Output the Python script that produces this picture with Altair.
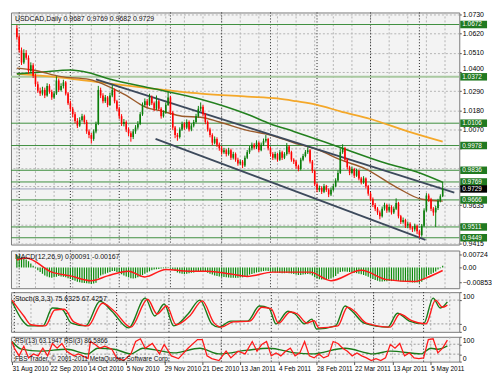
import json
import altair as alt
import pandas as pd

# ---------------- data ----------------
symbol = "USDCAD,Daily"
first_open = 1.0650
closes = [
    1.0600, 1.0524, 1.0454, 1.0508, 1.0481, 1.0405, 1.0438, 1.0378, 1.0330, 1.0292,
    1.0276, 1.0297, 1.0265, 1.0319, 1.0286, 1.0254, 1.0276, 1.0351, 1.0297, 1.0319,
    1.0340, 1.0276, 1.0221, 1.0189, 1.0157, 1.0119, 1.0092, 1.0124, 1.0146, 1.0113,
    1.0059, 1.0038, 1.0016, 1.0059, 1.0102, 1.0297, 1.0265, 1.0232, 1.0254, 1.0211,
    1.0265, 1.0297, 1.0232, 1.0189, 1.0146, 1.0102, 1.0113, 1.0070, 1.0048, 1.0027,
    1.0059, 1.0081, 1.0102, 1.0157, 1.0211, 1.0232, 1.0211, 1.0254, 1.0221, 1.0189,
    1.0232, 1.0189, 1.0146, 1.0167, 1.0211, 1.0254, 1.0167, 1.0081, 1.0038, 1.0027,
    1.0070, 1.0102, 1.0081, 1.0113, 1.0070, 1.0092, 1.0113, 1.0146, 1.0189, 1.0200,
    1.0157, 1.0113, 1.0070, 1.0038, 0.9994, 1.0016, 0.9983, 0.9962, 0.9940, 0.9951,
    0.9929, 0.9951, 0.9908, 0.9929, 0.9897, 0.9875, 0.9886, 0.9864, 0.9908, 0.9940,
    0.9962, 0.9983, 0.9967, 0.9994, 0.9951, 0.9983, 1.0005, 1.0016, 0.9962, 0.9929,
    0.9908, 0.9929, 0.9897, 0.9940, 0.9908, 0.9929, 0.9973, 0.9940, 0.9897, 0.9886,
    0.9859, 0.9843, 0.9897, 0.9918, 0.9940, 0.9951, 0.9886, 0.9832, 0.9756, 0.9724,
    0.9735, 0.9713, 0.9745, 0.9724, 0.9697, 0.9724, 0.9745, 0.9778, 0.9821, 0.9940,
    0.9962, 0.9897, 0.9854, 0.9821, 0.9843, 0.9805, 0.9832, 0.9789, 0.9767, 0.9789,
    0.9745, 0.9702, 0.9670, 0.9637, 0.9616, 0.9594, 0.9572, 0.9616, 0.9637, 0.9605,
    0.9626, 0.9594, 0.9616, 0.9648, 0.9572, 0.9540, 0.9551, 0.9518, 0.9529, 0.9507,
    0.9497, 0.9518, 0.9486, 0.9464, 0.9518, 0.9605, 0.9691, 0.9670, 0.9616, 0.9594,
    0.9620, 0.9660, 0.9687, 0.9729,
]
highs = [
    1.0668, 1.0615, 1.0540, 1.0530, 1.0525, 1.0495, 1.0455, 1.0450, 1.0390, 1.0345,
    1.0310, 1.0315, 1.0310, 1.0335, 1.0330, 1.0298, 1.0290, 1.0375, 1.0362, 1.0335,
    1.0355, 1.0348, 1.0285, 1.0235, 1.0200, 1.0170, 1.0135, 1.0140, 1.0160, 1.0155,
    1.0125, 1.0070, 1.0050, 1.0070, 1.0115, 1.0320, 1.0310, 1.0278, 1.0268, 1.0262,
    1.0280, 1.0325, 1.0305, 1.0240, 1.0200, 1.0158, 1.0130, 1.0122, 1.0082, 1.0060,
    1.0072, 1.0095, 1.0118, 1.0170, 1.0225, 1.0248, 1.0245, 1.0275, 1.0265, 1.0230,
    1.0265, 1.0240, 1.0198, 1.0180, 1.0225, 1.0285, 1.0262, 1.0175, 1.0090, 1.0050,
    1.0082, 1.0115, 1.0112, 1.0128, 1.0122, 1.0105, 1.0125, 1.0160, 1.0205, 1.0225,
    1.0210, 1.0165, 1.0122, 1.0080, 1.0048, 1.0030, 1.0025, 0.9995, 0.9975, 0.9965,
    0.9960, 0.9965, 0.9960, 0.9942, 0.9938, 0.9908, 0.9898, 0.9895, 0.9920, 0.9952,
    0.9975, 0.9995, 0.9992, 1.0008, 1.0002, 0.9995, 1.0018, 1.0038, 1.0022, 0.9970,
    0.9940, 0.9942, 0.9935, 0.9952, 0.9948, 0.9940, 0.9992, 0.9980, 0.9948, 0.9905,
    0.9895, 0.9868, 0.9908, 0.9930, 0.9952, 0.9968, 0.9958, 0.9895, 0.9840, 0.9765,
    0.9748, 0.9745, 0.9758, 0.9752, 0.9732, 0.9738, 0.9758, 0.9790, 0.9835, 0.9962,
    0.9985, 0.9970, 0.9905, 0.9862, 0.9858, 0.9850, 0.9845, 0.9840, 0.9798, 0.9802,
    0.9795, 0.9752, 0.9712, 0.9680, 0.9648, 0.9625, 0.9605, 0.9628, 0.9650, 0.9645,
    0.9640, 0.9635, 0.9628, 0.9675, 0.9655, 0.9580, 0.9565, 0.9558, 0.9542, 0.9538,
    0.9515, 0.9530, 0.9525, 0.9492, 0.9528, 0.9618, 0.9705, 0.9702, 0.9678, 0.9625,
    0.9632, 0.9672, 0.9698, 0.9769,
]
lows = [
    1.0585, 1.0510, 1.0440, 1.0445, 1.0470, 1.0390, 1.0395, 1.0365, 1.0315, 1.0280,
    1.0262, 1.0265, 1.0250, 1.0258, 1.0275, 1.0240, 1.0245, 1.0268, 1.0285, 1.0288,
    1.0305, 1.0265, 1.0210, 1.0175, 1.0140, 1.0105, 1.0078, 1.0085, 1.0115, 1.0100,
    1.0045, 1.0020, 0.9990, 1.0005, 1.0048, 1.0095, 1.0250, 1.0220, 1.0222, 1.0198,
    1.0205, 1.0255, 1.0220, 1.0175, 1.0130, 1.0090, 1.0088, 1.0055, 1.0032, 1.0000,
    1.0015, 1.0045, 1.0070, 1.0095, 1.0148, 1.0200, 1.0198, 1.0205, 1.0210, 1.0175,
    1.0182, 1.0178, 1.0132, 1.0138, 1.0160, 1.0205, 1.0155, 1.0068, 1.0020, 1.0005,
    1.0018, 1.0062, 1.0068, 1.0072, 1.0058, 1.0060, 1.0082, 1.0105, 1.0138, 1.0175,
    1.0145, 1.0100, 1.0058, 1.0025, 0.9980, 0.9985, 0.9970, 0.9948, 0.9925, 0.9930,
    0.9915, 0.9920, 0.9895, 0.9898, 0.9885, 0.9862, 0.9865, 0.9848, 0.9855, 0.9900,
    0.9930, 0.9950, 0.9955, 0.9958, 0.9940, 0.9945, 0.9975, 0.9995, 0.9950, 0.9915,
    0.9895, 0.9898, 0.9885, 0.9890, 0.9895, 0.9900, 0.9920, 0.9928, 0.9885, 0.9872,
    0.9845, 0.9830, 0.9835, 0.9888, 0.9910, 0.9930, 0.9875, 0.9820, 0.9745, 0.9710,
    0.9712, 0.9700, 0.9705, 0.9712, 0.9682, 0.9688, 0.9715, 0.9738, 0.9770, 0.9815,
    0.9930, 0.9885, 0.9840, 0.9808, 0.9812, 0.9792, 0.9798, 0.9778, 0.9755, 0.9758,
    0.9732, 0.9690, 0.9658, 0.9625, 0.9602, 0.9580, 0.9555, 0.9565, 0.9605, 0.9592,
    0.9595, 0.9582, 0.9585, 0.9608, 0.9560, 0.9528, 0.9530, 0.9505, 0.9505, 0.9495,
    0.9482, 0.9485, 0.9470, 0.9449, 0.9455, 0.9510, 0.9598, 0.9655, 0.9602, 0.9575,
    0.9511, 0.9608, 0.9652, 0.9682,
]

# moving averages (bar index, value)
ma_orange_i = [0, 19, 39, 59, 79, 99, 112, 120, 129, 139, 152, 168, 183]
ma_orange_v = [1.0389, 1.0368, 1.0335, 1.0303, 1.0276, 1.0259, 1.0248, 1.0232, 1.0211, 1.0174, 1.0130, 1.0059, 1.0000]
ma_green_i = [0, 11, 23, 31, 39, 59, 79, 99, 109, 119, 139, 159, 172, 183]
ma_green_v = [1.0389, 1.0400, 1.0411, 1.0395, 1.0362, 1.0303, 1.0243, 1.0157, 1.0102, 1.0059, 0.9967, 0.9875, 0.9826, 0.9767]
ma_brown_i = [0, 7, 19, 31, 39, 47, 55, 63, 71, 79, 87, 99, 109, 119, 129, 139, 150, 163, 174, 183]
ma_brown_v = [1.0422, 1.0411, 1.0373, 1.0357, 1.0319, 1.0265, 1.0200, 1.0173, 1.0146, 1.0140, 1.0113, 1.0065, 1.0038, 0.9994, 0.9956, 0.9897, 0.9843, 0.9740, 0.9670, 0.9659]

# channel trend lines (start bar, start price, end bar, end price)
trend_i0 = [34.0, 59.6]
trend_p0 = [1.0357, 1.0016]
trend_i1 = [188.0, 175.6]
trend_p1 = [0.9708, 0.9437]

levels = [1.0672, 1.0106, 0.9978, 0.9836, 0.9769, 0.9666, 0.9511, 0.9449]
faint_levels = [1.0372]
last_price = [0.9729]
price_ticks = [1.0730, 1.0620, 1.0510, 1.0400, 1.0290, 1.0180, 1.0070, 0.9960, 0.9850, 0.9745, 0.9635, 0.9525, 0.9415]
hidden_ticks = [0.9960, 0.9850, 0.9745, 0.9525]   # covered by the price boxes in the reference
raised_ticks = [1.0400]                            # sits just above the 1.0372 box

macd_main = [
    0.0068, 0.0063, 0.0057, 0.0052, 0.0045, 0.0035, 0.0022, 0.0010, -0.0005, -0.0015,
    -0.0025, -0.0035, -0.0045, -0.0050, -0.0055, -0.0058, -0.0055, -0.0052, -0.0048, -0.0050,
    -0.0052, -0.0055, -0.0060, -0.0065, -0.0070, -0.0075, -0.0080, -0.0083, -0.0085, -0.0087,
    -0.0088, -0.0090, -0.0092, -0.0090, -0.0085, -0.0060, -0.0045, -0.0040, -0.0035, -0.0030,
    -0.0025, -0.0020, -0.0020, -0.0025, -0.0030, -0.0038, -0.0045, -0.0050, -0.0055, -0.0060,
    -0.0062, -0.0060, -0.0055, -0.0050, -0.0042, -0.0035, -0.0028, -0.0022, -0.0016, -0.0012,
    -0.0010, -0.0008, -0.0006, -0.0005, -0.0004, -0.0003, -0.0005, -0.0012, -0.0020, -0.0028,
    -0.0032, -0.0035, -0.0036, -0.0035, -0.0033, -0.0030, -0.0028, -0.0025, -0.0022, -0.0020,
    -0.0022, -0.0026, -0.0030, -0.0035, -0.0040, -0.0045, -0.0048, -0.0050, -0.0052, -0.0054,
    -0.0055, -0.0056, -0.0057, -0.0058, -0.0058, -0.0057, -0.0056, -0.0055, -0.0052, -0.0048,
    -0.0040, -0.0036, -0.0032, -0.0028, -0.0025, -0.0022, -0.0020, -0.0018, -0.0020, -0.0023,
    -0.0026, -0.0028, -0.0030, -0.0031, -0.0032, -0.0032, -0.0031, -0.0032, -0.0034, -0.0036,
    -0.0039, -0.0042, -0.0042, -0.0040, -0.0038, -0.0036, -0.0038, -0.0045, -0.0055, -0.0062,
    -0.0066, -0.0068, -0.0068, -0.0068, -0.0066, -0.0062, -0.0056, -0.0048, -0.0035, -0.0025,
    -0.0022, -0.0022, -0.0024, -0.0026, -0.0028, -0.0030, -0.0032, -0.0035, -0.0038, -0.0042,
    -0.0046, -0.0052, -0.0058, -0.0064, -0.0070, -0.0074, -0.0078, -0.0078, -0.0077, -0.0077,
    -0.0076, -0.0076, -0.0074, -0.0074, -0.0076, -0.0078, -0.0080, -0.0081, -0.0082, -0.0083,
    -0.0084, -0.0084, -0.0084, -0.0086, -0.0080, -0.0068, -0.0052, -0.0042, -0.0036, -0.0030,
    -0.0022, -0.0012, -0.0004, 0.00091,
]
macd_sig_i = [0, 4, 15, 23, 32, 39, 48, 55, 64, 74, 82, 92, 99, 110, 126, 135, 148, 159, 171, 176, 183]
macd_sig_v = [0.0042, 0.0053, -0.0026, -0.0047, -0.0074, -0.0047, -0.0021, -0.0053, -0.0011, -0.0021, -0.0021,
              -0.0037, -0.0050, -0.0026, -0.0026, -0.0074, -0.0016, -0.0068, -0.0079, -0.0058, -0.00167]
macd_ticks = [0.00724, 0.0, -0.00853]

stoch_main_i = [0, 4, 7, 13, 17, 21, 25, 31, 37, 42, 49, 56, 60, 64, 68, 74, 79, 84, 87, 92, 99, 104, 108, 111,
                116, 119, 123, 126, 128, 136, 140, 143, 148, 158, 162, 167, 173, 177, 180, 183]
stoch_main_v = [77, 32, 15, 15, 60, 57, 22, 15, 77, 52, 10, 85, 40, 70, 15, 45, 80, 20, 12, 27, 27, 65, 60, 20,
                52, 45, 20, 32, 7, 15, 65, 52, 22, 12, 47, 27, 20, 85, 60, 75.6325]
stoch_sig_i = [0, 5, 8, 14, 18, 22, 26, 32, 38, 43, 50, 57, 61, 65, 69, 75, 80, 85, 88, 93, 100, 105, 109, 112,
               117, 120, 124, 127, 129, 137, 141, 144, 149, 159, 163, 168, 174, 178, 181, 183]
stoch_sig_v = [80, 40, 18, 15, 55, 57, 25, 15, 72, 52, 12, 82, 45, 65, 18, 42, 78, 22, 12, 25, 27, 62, 58, 22,
               50, 45, 22, 28, 10, 15, 62, 52, 22, 12, 45, 28, 20, 80, 62, 67.4257]
stoch_ticks = [100, 80, 20, 0]
stoch_levels = [80, 20]

rsi13_i = [0, 4, 12, 23, 32, 36, 43, 50, 55, 63, 68, 79, 87, 99, 108, 119, 126, 140, 152, 159, 172, 176, 179, 183]
rsi13_v = [81, 50, 42, 50, 31, 54, 50, 31, 54, 42, 35, 54, 31, 46, 54, 35, 31, 54, 31, 42, 31, 54, 50, 63.1947]
rsi3_i = [0, 1, 3, 5, 7, 9, 11, 13, 15, 17, 19, 21, 23, 26, 28, 32, 33, 35, 37, 39, 42, 44, 47, 50, 52, 54, 56,
          59, 62, 64, 67, 70, 74, 78, 80, 82, 84, 87, 90, 92, 95, 98, 101, 103, 105, 107, 109, 111, 113, 115,
          117, 119, 121, 123, 125, 127, 129, 131, 133, 135, 137, 139, 141, 143, 145, 147, 149, 151, 153, 155,
          157, 159, 161, 163, 165, 167, 169, 171, 173, 175, 177, 179, 181, 183]
rsi3_v = [81, 54, 23, 62, 15, 31, 23, 54, 23, 73, 54, 73, 42, 23, 31, 12, 81, 69, 54, 62, 50, 15, 4, 31, 81, 92, 54,
          73, 31, 69, 23, 12, 54, 89, 89, 23, 12, 4, 42, 15, 42, 31, 81, 42, 69, 81, 23, 35, 23, 42,
          54, 23, 35, 81, 23, 15, 31, 15, 23, 81, 73, 54, 42, 23, 35, 23, 15, 4, 12, 4,
          15, 69, 54, 73, 23, 35, 15, 12, 15, 89, 92, 35, 54, 86.5866]
rsi_ticks = [100, 70, 30, 0]
rsi_levels = [70, 30]

date_ticks = [0, 16, 32, 48, 64, 80, 96, 112, 128, 144, 160, 176]
date_labels = ["31 Aug 2010", "22 Sep 2010", "14 Oct 2010", "5 Nov 2010", "29 Nov 2010", "21 Dec 2010",
               "13 Jan 2011", "4 Feb 2011", "28 Feb 2011", "22 Mar 2011", "13 Apr 2011", "5 May 2011"]
month_starts = [1, 23, 44, 66, 88, 109, 129, 152, 173]
grid_bars = list(range(0, 189, 8))

macd_title = "MACD(12,26,9) 0.00091 -0.00167"
stoch_title = "Stoch(8,3,3) 75.6325 67.4257"
rsi_title = "RSI(13) 63.1947  RSI(3) 86.5866"
copyright_text = "FBS Trader, © 2001-2011 MetaQuotes Software Corp."

# ---------------- styling ----------------
FONT = "Liberation Sans"
W = 452
H_MAIN, H_MACD, H_STOCH, H_RSI = 234, 38, 40, 25
UP, DOWN = "#0a7d0a", "#ff0000"
GRID = "#b4b4b4"
xs = alt.Scale(domain=[-0.4, 188], nice=False, zero=False)


def X(field="i", axis=None):
    return alt.X(f"{field}:Q", scale=xs, axis=axis, title=None)


opens = [first_open] + closes[:-1]
n = len(closes)
candles = pd.DataFrame({"i": list(range(n)), "open": opens, "close": closes, "high": highs, "low": lows})
candles["dir"] = ["up" if c >= o else "down" for o, c in zip(opens, closes)]
dir_color = alt.Color("dir:N", scale=alt.Scale(domain=["up", "down"], range=[UP, DOWN]), legend=None)

vgrid = alt.Chart(pd.DataFrame({"i": grid_bars})).mark_rule(color=GRID, strokeDash=[2, 2], strokeWidth=1).encode(x=X())
seps = alt.Chart(pd.DataFrame({"i": month_starts})).mark_rule(color="#222222", strokeDash=[1, 2], strokeWidth=1).encode(x=X())

# ---------------- main panel ----------------
ys_main = alt.Scale(domain=[0.9410, 1.0741], nice=False, zero=False)
hide_expr = "indexof(" + json.dumps(hidden_ticks) + ", datum.value) >= 0 ? '' : format(datum.value, '.4f')"
raise_expr = "indexof(" + json.dumps(raised_ticks) + ", datum.value) >= 0 ? 'bottom' : 'middle'"
ax_main = alt.Axis(orient="right", values=price_ticks, labelExpr=hide_expr, labelBaseline={"expr": raise_expr},
                   grid=True, gridDash=[2, 2], gridColor=GRID,
                   tickSize=2, labelPadding=1, domain=False, title=None)


def YM(field):
    return alt.Y(f"{field}:Q", scale=ys_main, axis=ax_main, title=None)


lv = pd.DataFrame({"level": levels})
lines_lv = alt.Chart(lv).mark_rule(color="#3f8f3f", strokeWidth=1).encode(x=alt.value(0), x2=alt.value(W), y=YM("level"))
faint = alt.Chart(pd.DataFrame({"level": faint_levels})).mark_rule(color="#a9c9a0", strokeWidth=2).encode(
    x=alt.value(0), x2=alt.value(W), y=YM("level"))
cur = alt.Chart(pd.DataFrame({"level": last_price})).mark_rule(color="#9aa0b8", strokeWidth=1).encode(
    x=alt.value(0), x2=alt.value(W), y=YM("level"))


def ma_layer(ii, vv, color, width):
    return alt.Chart(pd.DataFrame({"i": ii, "v": vv})).mark_line(color=color, strokeWidth=width, interpolate="monotone").encode(
        x=X(), y=YM("v"))


ma_o = ma_layer(ma_orange_i, ma_orange_v, "#f4a82a", 1.8)
ma_g = ma_layer(ma_green_i, ma_green_v, "#23801f", 1.6)
ma_b = ma_layer(ma_brown_i, ma_brown_v, "#9a5a2a", 1.4)
trend = alt.Chart(pd.DataFrame({"i0": trend_i0, "p0": trend_p0, "i1": trend_i1, "p1": trend_p1})).mark_rule(
    color="#3d4a5c", strokeWidth=1.8).encode(x=X("i0"), x2="i1", y=YM("p0"), y2="p1")

wicks = alt.Chart(candles).mark_rule(strokeWidth=1).encode(x=X(), y=YM("low"), y2="high", color=dir_color)
bodies = alt.Chart(candles).mark_bar(size=1.6).encode(x=X(), y=YM("open"), y2="close", color=dir_color)

BOX = "M-1,-0.2800L1,-0.2800L1,0.2800L-1,0.2800Z"
all_lv = pd.DataFrame({"level": levels + faint_levels})
boxes = alt.Chart(all_lv).mark_point(shape=BOX, size=729, filled=True, opacity=1, strokeWidth=0, color="#217a21").encode(
    x=alt.value(W + 14.5), y=YM("level"))
box_txt = alt.Chart(all_lv).mark_text(align="left", baseline="middle", fontSize=6.5, color="white", font=FONT).encode(
    x=alt.value(W + 3), y=YM("level"), text=alt.Text("level:Q", format=".4f"))
cur_box = alt.Chart(pd.DataFrame({"level": last_price})).mark_point(shape=BOX, size=729, filled=True, opacity=1,
                                                                      strokeWidth=0, color="#000000").encode(
    x=alt.value(W + 14.5), y=YM("level"))
cur_txt = alt.Chart(pd.DataFrame({"level": last_price})).mark_text(align="left", baseline="middle", fontSize=6.5,
                                                                    color="white", font=FONT).encode(
    x=alt.value(W + 3), y=YM("level"), text=alt.Text("level:Q", format=".4f"))

header = f"{symbol}  {opens[-1]:.4f} {highs[-1]:.4f} {lows[-1]:.4f} {closes[-1]:.4f}"


def label_layer(txt, ypix, baseline="top", size=7):
    return alt.Chart(pd.DataFrame({"t": [txt]})).mark_text(align="left", baseline=baseline, fontSize=size, color="#111111",
                                                          font=FONT).encode(x=alt.value(4), y=alt.value(ypix), text="t:N")


main = alt.layer(vgrid, seps, faint, lines_lv, cur, ma_o, ma_g, ma_b, trend, wicks, bodies,
                 boxes, box_txt, cur_box, cur_txt, label_layer(header, 3)).properties(width=W, height=H_MAIN)

# ---------------- MACD ----------------
ys_macd = alt.Scale(domain=[-0.0116, 0.0095], nice=False, zero=False)
ax_macd = alt.Axis(orient="right", values=macd_ticks, labelExpr="datum.value == 0 ? '0.00' : format(datum.value, '.5f')",
                   grid=False, tickSize=2, labelPadding=1, domain=False, title=None)


def YD(field):
    return alt.Y(f"{field}:Q", scale=ys_macd, axis=ax_macd, title=None)


mh = alt.Chart(pd.DataFrame({"i": list(range(len(macd_main))), "v": macd_main})).mark_bar(size=1.2, color="#0a8a0a").encode(
    x=X(), y=YD("v"), y2=alt.datum(0))
ms = alt.Chart(pd.DataFrame({"i": macd_sig_i, "v": macd_sig_v})).mark_line(color="#ff1a1a", strokeWidth=1.5,
                                                                             interpolate="monotone").encode(x=X(), y=YD("v"))
macd = alt.layer(vgrid, seps, mh, ms, label_layer(macd_title, 3)).properties(width=W, height=H_MACD)

# ---------------- Stochastic ----------------
ys_pct = alt.Scale(domain=[0, 100], nice=False, zero=False)


def YP(field, ticks):
    return alt.Y(f"{field}:Q", scale=ys_pct, title=None,
                 axis=alt.Axis(orient="right", values=ticks, grid=False, tickSize=2, labelPadding=1, domain=False,
                               labelFlush=True, title=None))


def level_layer(vals, ticks):
    return alt.Chart(pd.DataFrame({"v": vals})).mark_rule(color="#999999", strokeDash=[2, 2]).encode(y=YP("v", ticks))


st_m = alt.Chart(pd.DataFrame({"i": stoch_main_i, "v": stoch_main_v})).mark_line(color="#1a7a1a", strokeWidth=1.4,
                                                                                   interpolate="monotone").encode(
    x=X(), y=YP("v", stoch_ticks))
st_s = alt.Chart(pd.DataFrame({"i": stoch_sig_i, "v": stoch_sig_v})).mark_line(color="#ff1a1a", strokeWidth=1.4,
                                                                                interpolate="monotone").encode(
    x=X(), y=YP("v", stoch_ticks))
stoch = alt.layer(vgrid, seps, level_layer(stoch_levels, stoch_ticks), st_m, st_s,
                  label_layer(stoch_title, 3)).properties(width=W, height=H_STOCH)

# ---------------- RSI ----------------
date_expr = json.dumps(date_labels) + "[round(datum.value / 16)]"
ax_date = alt.Axis(values=date_ticks, labelExpr=date_expr, labelAlign="left", labelPadding=1, tickSize=3,
                   grid=False, domain=False, labelOverlap=False, labelFontSize=6.5, title=None)
vgrid_r = alt.Chart(pd.DataFrame({"i": grid_bars})).mark_rule(color=GRID, strokeDash=[2, 2]).encode(x=X(axis=ax_date))
r13 = alt.Chart(pd.DataFrame({"i": rsi13_i, "v": rsi13_v})).mark_line(color="#1a7a1a", strokeWidth=1.4,
                                                                       interpolate="monotone").encode(
    x=X(axis=ax_date), y=YP("v", rsi_ticks))
r3 = alt.Chart(pd.DataFrame({"i": rsi3_i, "v": rsi3_v})).mark_line(color="#ff1a1a", strokeWidth=1.3).encode(
    x=X(axis=ax_date), y=YP("v", rsi_ticks))
seps_r = alt.Chart(pd.DataFrame({"i": month_starts})).mark_rule(color="#222222", strokeDash=[1, 2]).encode(x=X(axis=ax_date))
rsi = alt.layer(vgrid_r, seps_r, level_layer(rsi_levels, rsi_ticks), r13, r3, label_layer(rsi_title, 1, size=6.5),
                label_layer(copyright_text, H_RSI, "bottom", size=6.5)).properties(width=W, height=H_RSI)

chart = alt.vconcat(main, macd, stoch, rsi, spacing=2).properties(
    padding={"left": 0, "top": 0, "right": 0, "bottom": 0}, background="white"
).configure_view(stroke="#7a7a7a", strokeWidth=1, fill="#f3f3f3").configure_axis(
    labelFont=FONT, labelFontSize=7, labelColor="#000000", tickColor="#555555"
)

chart.save("out.html", embed_options={"renderer": "svg", "actions": False})
